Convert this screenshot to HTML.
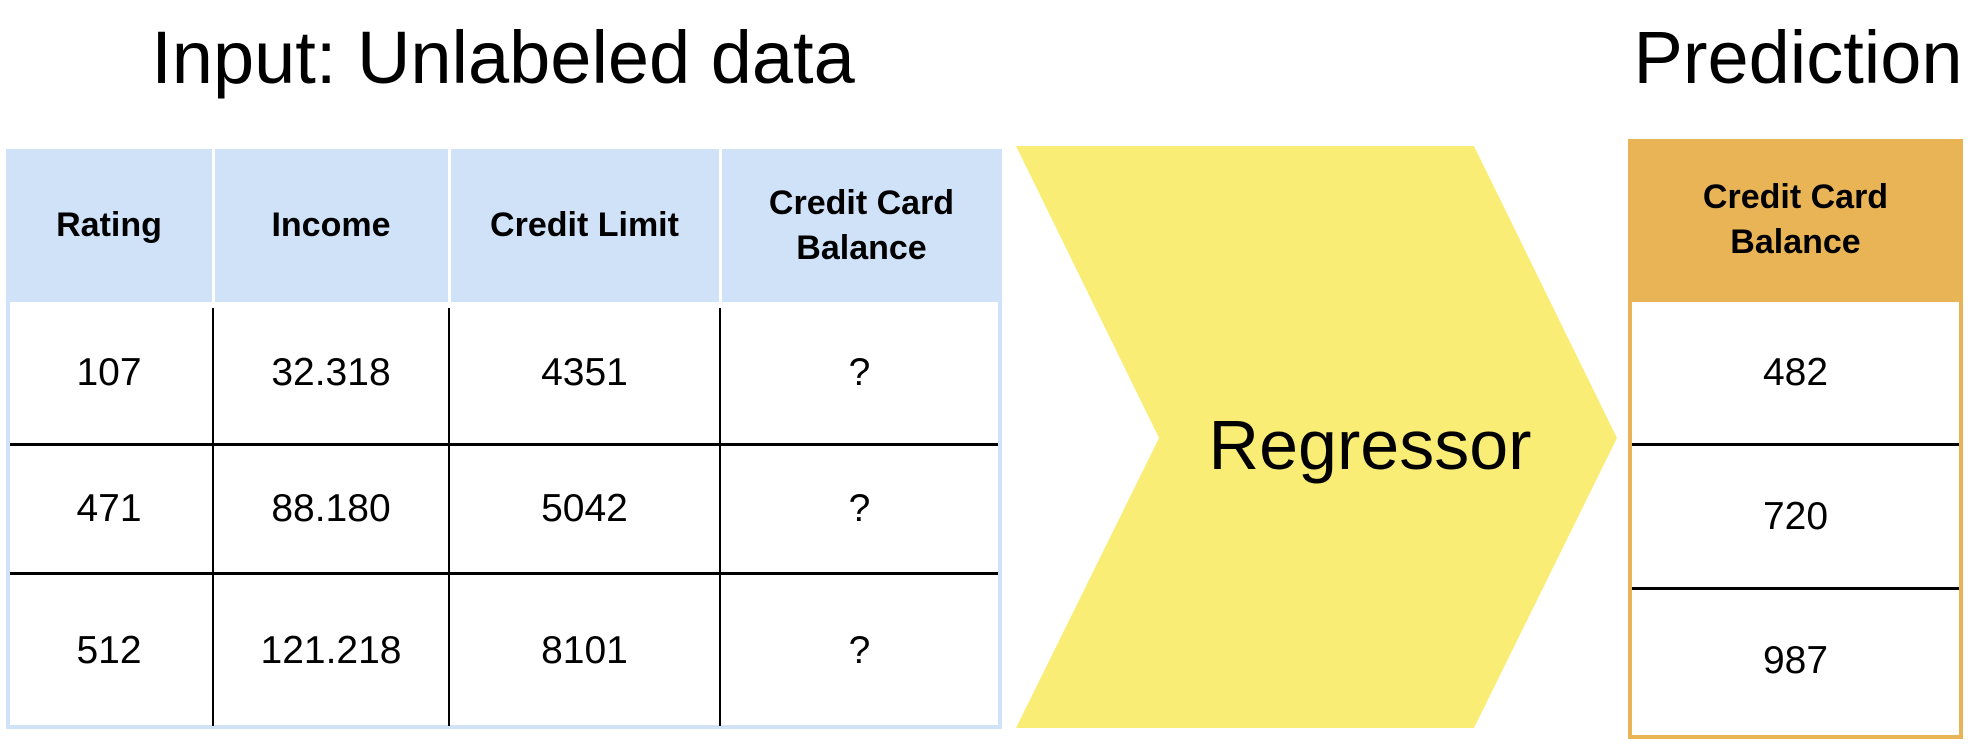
<!DOCTYPE html>
<html><head><meta charset="utf-8"><style>
body{margin:0;width:1976px;height:744px;background:#fff;position:relative;overflow:hidden;font-family:"Liberation Sans",Arial,sans-serif;color:#000}
.a{position:absolute;display:flex;align-items:center;justify-content:center;text-align:center}
.h{font-weight:bold;font-size:34px;line-height:1.3}
.c{font-size:39px}
.vl{position:absolute;width:2px;background:#000}
.hl{position:absolute;height:3px;background:#000}
</style></head><body>
<div class="a" style="left:193px;top:10px;width:620px;height:95px;font-size:74px;white-space:nowrap">Input: Unlabeled data</div>
<div class="a" style="left:1620px;top:10px;width:356px;height:95px;font-size:74px;white-space:nowrap">Prediction</div>

<!-- left table -->
<div style="position:absolute;left:6px;top:149px;width:996px;height:153px;background:#cfe2f8"></div>
<div style="position:absolute;left:6px;top:302px;width:988px;height:423px;border:4px solid #cfe2f8;border-top:none;background:#fff"></div>
<div style="position:absolute;left:212px;top:149px;width:3px;height:153px;background:#fff"></div>
<div style="position:absolute;left:448px;top:149px;width:3px;height:153px;background:#fff"></div>
<div style="position:absolute;left:719px;top:149px;width:3px;height:153px;background:#fff"></div>
<div class="vl" style="left:212px;top:308px;height:418px"></div>
<div class="vl" style="left:448px;top:308px;height:418px"></div>
<div class="vl" style="left:719px;top:308px;height:418px"></div>
<div class="hl" style="left:10px;top:443px;width:988px"></div>
<div class="hl" style="left:10px;top:572px;width:988px"></div>

<div class="a h" style="left:6px;top:149px;width:206px;height:153px">Rating</div>
<div class="a h" style="left:214px;top:149px;width:234px;height:153px">Income</div>
<div class="a h" style="left:450px;top:149px;width:269px;height:153px">Credit Limit</div>
<div class="a h" style="left:721px;top:149px;width:281px;height:153px">Credit Card<br>Balance</div>

<div class="a c" style="left:6px;top:302px;width:206px;height:141px">107</div>
<div class="a c" style="left:214px;top:302px;width:234px;height:141px">32.318</div>
<div class="a c" style="left:450px;top:302px;width:269px;height:141px">4351</div>
<div class="a c" style="left:721px;top:302px;width:277px;height:141px">?</div>
<div class="a c" style="left:6px;top:445px;width:206px;height:127px">471</div>
<div class="a c" style="left:214px;top:445px;width:234px;height:127px">88.180</div>
<div class="a c" style="left:450px;top:445px;width:269px;height:127px">5042</div>
<div class="a c" style="left:721px;top:445px;width:277px;height:127px">?</div>
<div class="a c" style="left:6px;top:575px;width:206px;height:151px">512</div>
<div class="a c" style="left:214px;top:575px;width:234px;height:151px">121.218</div>
<div class="a c" style="left:450px;top:575px;width:269px;height:151px">8101</div>
<div class="a c" style="left:721px;top:575px;width:277px;height:151px">?</div>

<!-- chevron -->
<svg style="position:absolute;left:0;top:0" width="1976" height="744">
<polygon points="1016,146 1474,146 1617,438 1474,728 1016,728 1159,438" fill="#f9ed75"/>
</svg>
<div class="a" style="left:1170px;top:395px;width:400px;height:100px;font-size:70px">Regressor</div>

<!-- right table -->
<div style="position:absolute;left:1628px;top:139px;width:335px;height:161px;background:#e8b455"></div>
<div class="a h" style="left:1628px;top:139px;width:335px;height:161px">Credit Card<br>Balance</div>
<div style="position:absolute;left:1628px;top:298px;width:327px;height:433px;border:4px solid #e8b455;background:#fff"></div>
<div class="hl" style="left:1632px;top:443px;width:327px"></div>
<div class="hl" style="left:1632px;top:587px;width:327px"></div>
<div class="a c" style="left:1632px;top:302px;width:327px;height:141px">482</div>
<div class="a c" style="left:1632px;top:446px;width:327px;height:141px">720</div>
<div class="a c" style="left:1632px;top:590px;width:327px;height:141px">987</div>
</body></html>
